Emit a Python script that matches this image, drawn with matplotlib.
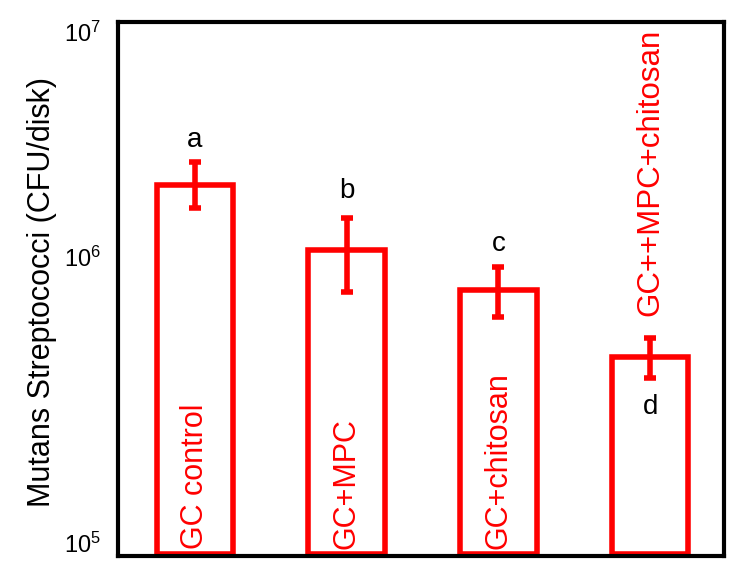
import matplotlib
matplotlib.use('Agg')
import matplotlib.pyplot as plt
from matplotlib.ticker import NullLocator
from matplotlib.transforms import ScaledTranslation

plt.rcParams['font.family'] = ['Liberation Sans', 'DejaVu Sans']
plt.rcParams['mathtext.fontset'] = 'custom'
plt.rcParams['mathtext.rm'] = 'Liberation Sans'
plt.rcParams['mathtext.it'] = 'Liberation Sans:italic'

groups = ['GC control', 'GC+MPC', 'GC+chitosan', 'GC++MPC+chitosan']
means = [2.45e6, 1.40e6, 9.9e5, 5.55e5]
err_low = [2.01e6, 9.75e5, 7.85e5, 4.64e5]
err_high = [2.99e6, 1.85e6, 1.21e6, 6.55e5]
letters = ['a', 'b', 'c', 'd']
letter_y = [3.6e6, 2.33e6, 1.47e6, 3.6e5]
yticks = [1e5, 1e6, 1e7]

x = list(range(len(groups)))
lower = [m - l for m, l in zip(means, err_low)]
upper = [h - m for m, h in zip(means, err_high)]

fig = plt.figure(figsize=(7.5, 5.83), dpi=100)
ax = fig.add_axes([118 / 750, 1 - 556 / 583, (724 - 118) / 750, (556 - 22) / 583])

base = 1.015e5
ax.bar(x, [m - base for m in means], width=0.505, bottom=base, color='white',
       edgecolor='#ff0000', linewidth=4, zorder=2)
ax.errorbar(x, means, yerr=[lower, upper], fmt='none', ecolor='#ff0000',
            elinewidth=4, capsize=4, capthick=4, zorder=3)

ax.set_yscale('log')
ax.set_ylim(1e5, 1e7)
ax.set_xlim(-0.508, 3.487)
ax.set_yticks(yticks)
ax.yaxis.set_minor_locator(NullLocator())
ax.set_xticks([])
ax.tick_params(axis='y', length=0, labelsize=17, pad=12)

# the labels in the original sit a bit off their ticks
shifts = [13, 32, -10]
for lbl, dy in zip(ax.get_yticklabels(), shifts):
    lbl.set_fontsize(17)
    lbl.set_transform(lbl.get_transform() + ScaledTranslation(0, dy / 100, fig.dpi_scale_trans))

for i in range(3):
    ax.text(x[i], 1.06e5, groups[i], rotation=90, ha='center', va='bottom',
            color='#ff0000', fontsize=22, zorder=4)
ax.text(x[3], 7.9e5, groups[3], rotation=90, ha='center', va='bottom',
        color='#ff0000', fontsize=22.5, zorder=4)

for i in range(len(letters)):
    ax.text(x[i], letter_y[i], letters[i], ha='center', va='center',
            color='black', fontsize=20, zorder=4)

for s in ax.spines.values():
    s.set_linewidth(3)
    s.set_color('black')
    s.set_zorder(5)

ax.set_ylabel('Mutans Streptococci (CFU/disk)', fontsize=22)
ax.yaxis.set_label_coords(-0.1007, 0.495)

fig.savefig('out.png', dpi=100)
